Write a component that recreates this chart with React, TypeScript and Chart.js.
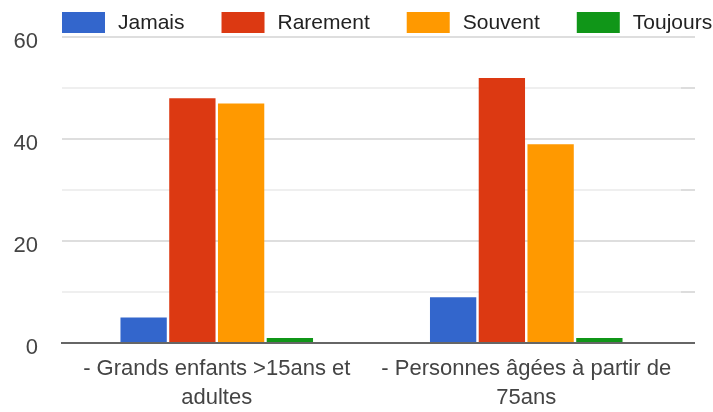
import React, { useEffect, useRef } from "react";
import { Chart, registerables } from "chart.js";

Chart.register(...registerables);

const categories: string[][] = [
  ["- Grands enfants >15ans et", "adultes"],
  ["- Personnes âgées à partir de", "75ans"],
];
const seriesNames = ["Jamais", "Rarement", "Souvent", "Toujours"];
const seriesColors = ["#3366cc", "#dc3912", "#ff9900", "#109618"];
const jamais = [5, 9];
const rarement = [48, 52];
const souvent = [47, 39];
const toujours = [1, 1];
const yMin = 0;
const yMax = 60;
const yStep = 10;
const yLabelStep = 20;

const FONT = 'Arial, "Liberation Sans", sans-serif';

const legendPlugin = {
  id: "gLegend",
  afterDraw(chart: any) {
    const ctx = chart.ctx;
    ctx.save();
    ctx.font = `21px ${FONT}`;
    ctx.textBaseline = "middle";
    ctx.textAlign = "left";
    let x = chart.chartArea.left;
    const y = 12;
    const bw = 43;
    const bh = 21;
    chart.data.datasets.forEach((ds: any) => {
      ctx.fillStyle = ds.backgroundColor;
      ctx.fillRect(x, y, bw, bh);
      x += bw + 13;
      ctx.fillStyle = "#222";
      ctx.fillText(ds.label, x, y + bh / 2 + 1);
      x += ctx.measureText(ds.label).width + 37;
    });
    ctx.restore();
  },
};

export default function App() {
  const ref = useRef<HTMLCanvasElement>(null);

  useEffect(() => {
    if (!ref.current) return;
    const seriesData = [jamais, rarement, souvent, toujours];
    const chart = new Chart(ref.current, {
      type: "bar",
      data: {
        labels: categories as any,
        datasets: seriesNames.map((name, i) => ({
          label: name,
          data: seriesData[i],
          backgroundColor: seriesColors[i],
          borderWidth: 0,
          categoryPercentage: 0.63,
          barPercentage: 0.95,
        })),
      },
      options: {
        responsive: false,
        animation: false,
        layout: { padding: { left: 14, right: 18, top: 37, bottom: 0 } },
        plugins: {
          legend: { display: false },
          tooltip: { enabled: false },
        },
        scales: {
          x: {
            grid: { display: false, drawTicks: false },
            border: { display: true, color: "#666", width: 2 },
            afterFit: (s: any) => {
              s.height = 69;
            },
            ticks: {
              font: { family: FONT, size: 22, lineHeight: 1.32 },
              color: "#444",
              padding: 11,
              maxRotation: 0,
              autoSkip: false,
            },
          },
          y: {
            min: yMin,
            max: yMax,
            border: { display: false },
            afterFit: (s: any) => {
              s.width = 48;
            },
            grid: {
              drawTicks: false,
              color: (c: any) =>
                c.tick.value === 0 ? "#666" : c.tick.value % yLabelStep === 0 ? "#dedede" : "#efefef",
              lineWidth: 2,
            },
            ticks: {
              stepSize: yStep,
              font: { family: FONT, size: 22 },
              color: "#444",
              padding: 24,
              labelOffset: 5,
              callback: (v: any) => (Number(v) % yLabelStep === 0 ? String(v) : ""),
            },
          },
          y2: {
            type: "linear",
            position: "right",
            min: yMin,
            max: yMax,
            border: { display: false },
            afterFit: (s: any) => {
              s.width = 14;
            },
            grid: {
              drawOnChartArea: false,
              drawTicks: true,
              tickLength: 14,
              tickColor: (c: any) => (c.tick.value === 0 ? "#666" : "#dddddd"),
              lineWidth: 2,
            },
            ticks: { display: false, stepSize: yStep },
          },
        },
      },
      plugins: [legendPlugin],
    });
    return () => chart.destroy();
  }, []);

  return (
    <div style={{ position: "absolute", left: 0, top: 0, width: 713, height: 412, background: "#fff" }}>
      <canvas ref={ref} width={713} height={412} style={{ display: "block" }} />
    </div>
  );
}
